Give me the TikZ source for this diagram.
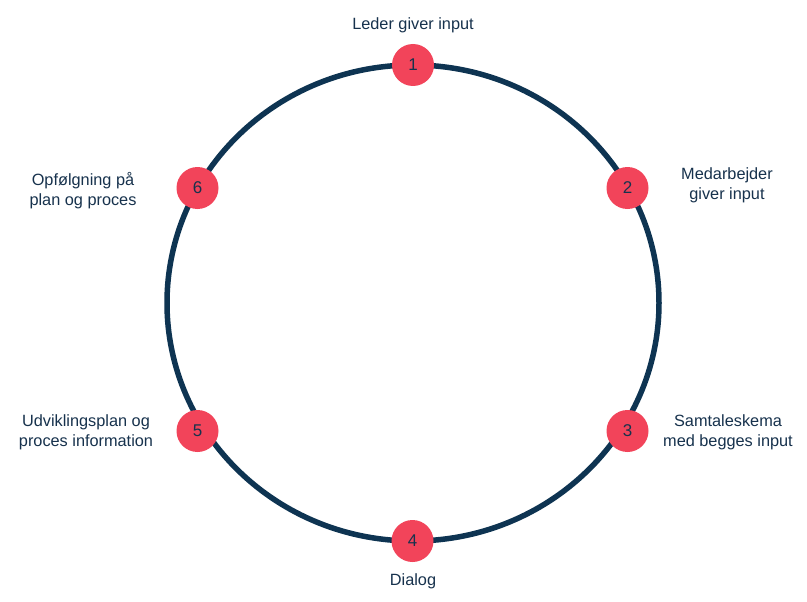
\documentclass[tikz,border=0pt]{standalone}
\usepackage{fontspec}
\setmainfont{Liberation Sans}
\definecolor{ringcol}{HTML}{0E3452}
\definecolor{dotcol}{HTML}{F2445A}
\definecolor{txtcol}{HTML}{17324D}
\tikzset{
  ring/.style={draw=ringcol, line width=5.5pt},
  dot/.style={circle, fill=dotcol, minimum size=42pt, inner sep=0pt, text=txtcol, font=\fontsize{17}{20}\selectfont},
  lbl/.style={align=center, inner sep=0pt, text=txtcol, font=\fontsize{16.3}{20}\selectfont}
}
\begin{document}
\begin{tikzpicture}[x=1pt,y=-1pt]
\useasboundingbox[fill=white] (0,0) rectangle (807,602);
\coordinate (c) at (413,303);
\draw[ring] (c) ellipse [x radius=246, y radius=238];
\node[dot] (n1) at (413,65) {1};
\node[dot] (n2) at (627.5,188) {2};
\node[dot] (n3) at (627.5,431) {3};
\node[dot] (n4) at (412.5,541) {4};
\node[dot] (n5) at (197.5,431) {5};
\node[dot] (n6) at (197.5,188) {6};
\node[lbl] (l1) at (413,25) {Leder giver input};
\node[lbl] (l2) at (727,185) {Medarbejder\\giver input};
\node[lbl] (l3) at (728,432) {Samtaleskema\\med begges input};
\node[lbl] (l4) at (413,581) {Dialog};
\node[lbl] (l5) at (86,432) {Udviklingsplan og\\proces information};
\node[lbl] (l6) at (83,191) {Opfølgning på\\plan og proces};
\end{tikzpicture}
\end{document}
